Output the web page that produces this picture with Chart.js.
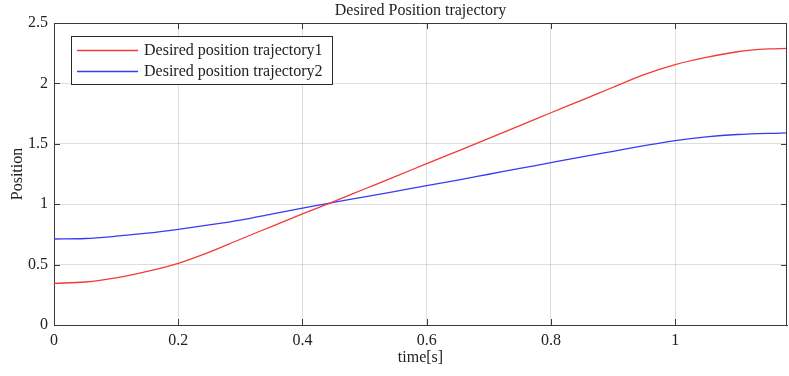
<!DOCTYPE html>
<html>
<head>
<meta charset="utf-8">
<script src="https://cdn.jsdelivr.net/npm/chart.js@4/dist/chart.umd.min.js"></script>
<style>
html,body{margin:0;padding:0;background:#fff;}
#wrap{width:789px;height:376px;position:relative;}
</style>
</head>
<body>
<div id="wrap"><canvas id="c" width="789" height="376"></canvas></div>
<script>
// ---- data ----
const chartTitle = 'Desired Position trajectory';
const xTitle = 'time[s]';
const yTitle = 'Position';
const seriesNames = ['Desired position trajectory1', 'Desired position trajectory2'];
const timeValues = [0, 0.05, 0.1, 0.15, 0.2, 0.25, 0.3, 0.35, 0.4, 0.45, 0.5, 0.55, 0.6,
                    0.65, 0.7, 0.75, 0.8, 0.85, 0.9, 0.95, 1.0, 1.05, 1.1, 1.15, 1.18];
const trajectory1 = [0.345, 0.356, 0.39, 0.443, 0.51, 0.603, 0.71, 0.815, 0.92, 1.022, 1.126, 1.23, 1.336,
                     1.44, 1.545, 1.65, 1.757, 1.862, 1.968, 2.072, 2.155, 2.215, 2.262, 2.285, 2.29];
const trajectory2 = [0.712, 0.716, 0.735, 0.76, 0.792, 0.828, 0.868, 0.918, 0.968, 1.015, 1.061, 1.107, 1.153,
                     1.2, 1.248, 1.296, 1.344, 1.392, 1.438, 1.484, 1.526, 1.557, 1.577, 1.587, 1.59];
const xTicks = [0, 0.2, 0.4, 0.6, 0.8, 1];
const xTickLabels = ['0', '0.2', '0.4', '0.6', '0.8', '1'];
const yTicks = [0, 0.5, 1, 1.5, 2, 2.5];
const yTickLabels = ['0', '0.5', '1', '1.5', '2', '2.5'];

const FONT = '"Liberation Serif", "Times New Roman", serif';
const lineColors = ['#f23a3a', '#3a3af2'];

const boxPlugin = {
  id: 'matlabBox',
  afterDraw(chart) {
    const {ctx, chartArea: a, scales: {x, y}} = chart;
    ctx.save();
    // frame top/right
    ctx.strokeStyle = '#3a3a3a';
    ctx.lineWidth = 1;
    ctx.beginPath();
    ctx.moveTo(a.left, a.top + 0.5); ctx.lineTo(a.right, a.top + 0.5);
    ctx.moveTo(a.right - 0.5, a.top); ctx.lineTo(a.right - 0.5, a.bottom);
    ctx.stroke();
    // inward ticks
    const tl = 6;
    ctx.beginPath();
    xTicks.forEach(v => {
      const px = Math.round(x.getPixelForValue(v)) + 0.5;
      ctx.moveTo(px, a.bottom); ctx.lineTo(px, a.bottom - tl);
      ctx.moveTo(px, a.top); ctx.lineTo(px, a.top + tl);
    });
    yTicks.forEach(v => {
      const py = Math.round(y.getPixelForValue(v)) + 0.5;
      ctx.moveTo(a.left, py); ctx.lineTo(a.left + tl, py);
      ctx.moveTo(a.right, py); ctx.lineTo(a.right - tl, py);
    });
    ctx.stroke();
    // title
    ctx.fillStyle = '#222';
    ctx.font = '16px ' + FONT;
    ctx.textAlign = 'center';
    ctx.textBaseline = 'alphabetic';
    ctx.fillText(chartTitle, (a.left + a.right) / 2, 15);
    // legend
    const lx = 71, ly = 36, lw = 261, lh = 48;
    ctx.fillStyle = '#fff';
    ctx.fillRect(lx, ly, lw, lh);
    ctx.strokeStyle = '#2a2a2a';
    ctx.strokeRect(lx + 0.5, ly + 0.5, lw, lh);
    chart.data.datasets.forEach((ds, i) => {
      const yy = ly + 14 + i * 21;
      ctx.strokeStyle = ds.borderColor;
      ctx.lineWidth = 1.3;
      ctx.beginPath();
      ctx.moveTo(77, yy + 0.5); ctx.lineTo(138, yy + 0.5);
      ctx.stroke();
      ctx.fillStyle = '#222';
      ctx.textAlign = 'left';
      ctx.textBaseline = 'middle';
      ctx.fillText(ds.label, 144, yy + 1);
    });
    ctx.restore();
  }
};

const makeSeries = vals => timeValues.map((t, i) => ({x: t, y: vals[i]}));

new Chart(document.getElementById('c'), {
  type: 'line',
  data: {
    datasets: [
      {label: seriesNames[0], data: makeSeries(trajectory1), borderColor: lineColors[0],
       borderWidth: 1.3, pointRadius: 0, cubicInterpolationMode: 'monotone', fill: false},
      {label: seriesNames[1], data: makeSeries(trajectory2), borderColor: lineColors[1],
       borderWidth: 1.3, pointRadius: 0, cubicInterpolationMode: 'monotone', fill: false}
    ]
  },
  options: {
    responsive: false,
    animation: false,
    events: [],
    layout: {padding: {top: 23, right: 2, left: 0, bottom: 0}},
    plugins: {legend: {display: false}, title: {display: false}, tooltip: {enabled: false}},
    scales: {
      x: {
        type: 'linear', min: 0, max: 1.18,
        afterBuildTicks: s => { s.ticks = xTicks.map(v => ({value: v})); },
        afterFit: s => { s.height = 51; },
        ticks: {autoSkip: false, maxRotation: 0, padding: 6, color: '#222',
                font: {family: FONT, size: 16}, callback: (v, i) => xTickLabels[i]},
        grid: {color: 'rgba(0,0,0,0.13)', drawTicks: false},
        border: {display: true, color: '#3a3a3a', width: 1},
        title: {display: true, text: xTitle, color: '#222', font: {family: FONT, size: 16},
                padding: {top: 0, bottom: 8.4}}
      },
      y: {
        type: 'linear', min: 0, max: 2.5,
        afterBuildTicks: s => { s.ticks = yTicks.map(v => ({value: v})); },
        afterFit: s => { s.width = 54; },
        ticks: {autoSkip: false, padding: 6, color: '#222',
                font: {family: FONT, size: 16}, callback: (v, i) => yTickLabels[i]},
        grid: {color: 'rgba(0,0,0,0.13)', drawTicks: false},
        border: {display: true, color: '#3a3a3a', width: 1},
        title: {display: true, text: yTitle, color: '#222', font: {family: FONT, size: 16},
                padding: {top: 8.4, bottom: 0}}
      }
    }
  },
  plugins: [boxPlugin]
});
</script>
</body>
</html>
